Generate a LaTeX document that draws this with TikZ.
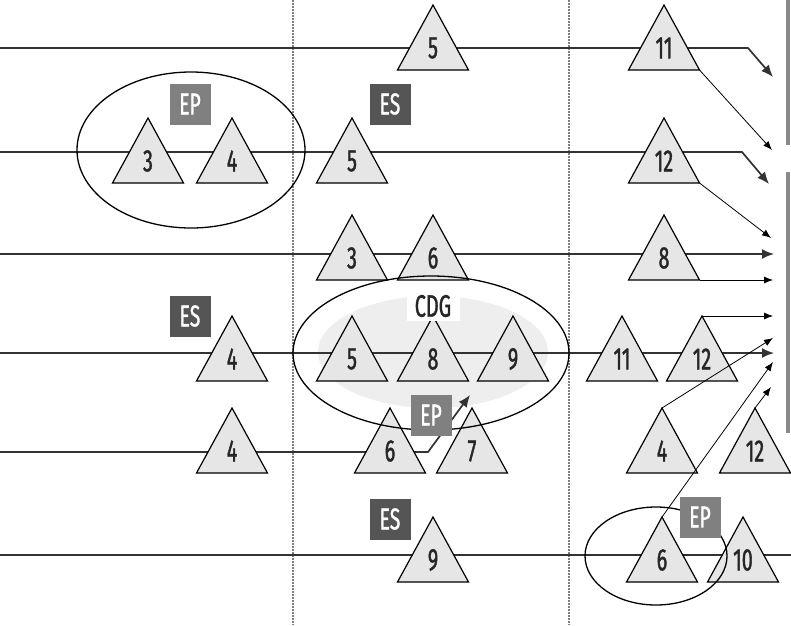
\documentclass[tikz,border=0pt]{standalone}
\usepackage{fontspec}
\setmainfont{Fira Sans}[FakeStretch=0.64,FakeBold=1.2]
\usetikzlibrary{arrows.meta}
\definecolor{linegray}{HTML}{333333}
\definecolor{trigray}{HTML}{E6E6E6}
\definecolor{epgray}{HTML}{808080}
\definecolor{esgray}{HTML}{555555}
\definecolor{cdggray}{HTML}{EEEEEE}
\definecolor{bargray}{HTML}{8A8A8A}
\tikzset{
  rowline/.style={draw=linegray, line width=1.7pt},
  tribox/.style={draw=black, fill=trigray, line width=1.2pt, line join=miter},
  num/.style={font=\fontsize{31}{31}\selectfont, text=black!85, inner sep=0pt},
  tag/.style={font=\fontsize{30}{30}\selectfont, text=white, minimum width=41pt, minimum height=41pt, inner sep=0pt},
  ep/.style={tag, fill=epgray},
  es/.style={tag, fill=esgray},
  thinarrow/.style={draw=black, line width=0.8pt, -{Latex[length=9pt,width=7pt]}},
  thickarrow/.style={draw=linegray, line width=1.7pt, -{Latex[length=12pt,width=10pt]}},
  groupring/.style={draw=black, line width=1.3pt},
  divider/.style={draw=gray, line width=1.4pt, dash pattern=on 1.5pt off 1.5pt},
}
\newcommand\tri[4]{%
  \draw[tribox] (#2,#3) coordinate (#1-a) -- ++(35.5,65) coordinate (#1-r) -- ++(-71,0) coordinate (#1-l) -- cycle;
  \node[num] (#1) at (#2,#3+43) {#4};
}
\begin{document}
\begin{tikzpicture}[x=1pt,y=-1pt]
\useasboundingbox (0,0) rectangle (791,625);
\fill[white] (0,0) rectangle (791,625);

% CDG shading
\fill[cdggray] (433,352) ellipse [x radius=115pt, y radius=56pt];

% dividers
\draw[divider] (293,0) -- (293,625);
\draw[divider] (569,0) -- (569,625);

% right bars
\fill[bargray] (786,0) rectangle (790,145);
\fill[bargray] (786,172) rectangle (790,433);

% coordinates
\coordinate (s1) at (0,48);
\coordinate (s2) at (0,152);
\coordinate (s3) at (0,254);
\coordinate (s4) at (0,353);
\coordinate (s5) at (0,452);
\coordinate (s6) at (0,555);
\coordinate (k1) at (748,48);
\coordinate (e1) at (773,77);
\coordinate (k2) at (742,152);
\coordinate (e3) at (769,184);
\coordinate (e2) at (772,150);
\coordinate (e4) at (771,238);
\coordinate (e5) at (774,254);
\coordinate (e6) at (773,280);
\coordinate (e7) at (773,316);
\coordinate (e8) at (774,353);
\coordinate (e9) at (773,338);
\coordinate (e10) at (773,362);
\coordinate (e11) at (771,387);
\coordinate (k5) at (428,452);
\coordinate (e12) at (470,395);
\coordinate (f6) at (791,555);

% row lines
\draw[thickarrow] (s1) -- (k1) -- (e1);
\draw[thickarrow] (s2) -- (k2) -- (e3);
\draw[thickarrow] (s3) -- (e5);
\draw[thickarrow] (s4) -- (e8);
\draw[thickarrow] (s5) -- (k5) -- (e12);
\draw[rowline] (s6) -- (f6);

% triangles
\tri{a5}{433}{5}{5}
\tri{a11}{664}{5}{11}
\tri{b3}{148}{118}{3}
\tri{b4}{232}{118}{4}
\tri{b5}{352}{118}{5}
\tri{b12}{664}{118}{12}
\tri{c3}{352}{215}{3}
\tri{c6}{433}{215}{6}
\tri{c8}{664}{215}{8}
\tri{d4}{232}{316}{4}
\tri{d5}{352}{316}{5}
\tri{d8}{433}{316}{8}
\tri{d9}{513}{316}{9}
\tri{d11}{622}{316}{11}
\tri{d12}{702}{316}{12}
\tri{g4}{232}{408}{4}
\tri{g6}{390}{408}{6}
\tri{g7}{472}{408}{7}
\tri{gr4}{662}{408}{4}
\tri{g12}{755}{408}{12}
\tri{h9}{433}{517}{9}
\tri{h6}{662}{517}{6}
\tri{h10}{743}{517}{10}

% thin arrows
\draw[thinarrow] (a11-r) -- (e2);
\draw[thinarrow] (b12-r) -- (e4);
\draw[thinarrow] (c8-r) -- (e6);
\draw[thinarrow] (d12-a) -- (e7);
\draw[thinarrow] (gr4-a) -- (e9);
\draw[thinarrow] (h6-a) -- (e10);
\draw[thinarrow] (g12-a) -- (e11);

% group rings
\draw[groupring] (191,150) ellipse [x radius=114pt, y radius=78pt];
\draw[groupring] (431,353) ellipse [x radius=138pt, y radius=77pt];
\draw[groupring] (656,556) ellipse [x radius=71pt, y radius=49pt];

% CDG label
\node[num, fill=white, minimum width=53pt, minimum height=30pt] (cdg) at (433,306) {CDG};

% tags
\node[ep] (ep1) at (190,104) {EP};
\node[es] (es1) at (390,104) {ES};
\node[es] (es2) at (190,316) {ES};
\node[ep] (ep2) at (431,415) {EP};
\node[es] (es3) at (390,519) {ES};
\node[ep] (ep3) at (700,517) {EP};
\end{tikzpicture}
\end{document}
